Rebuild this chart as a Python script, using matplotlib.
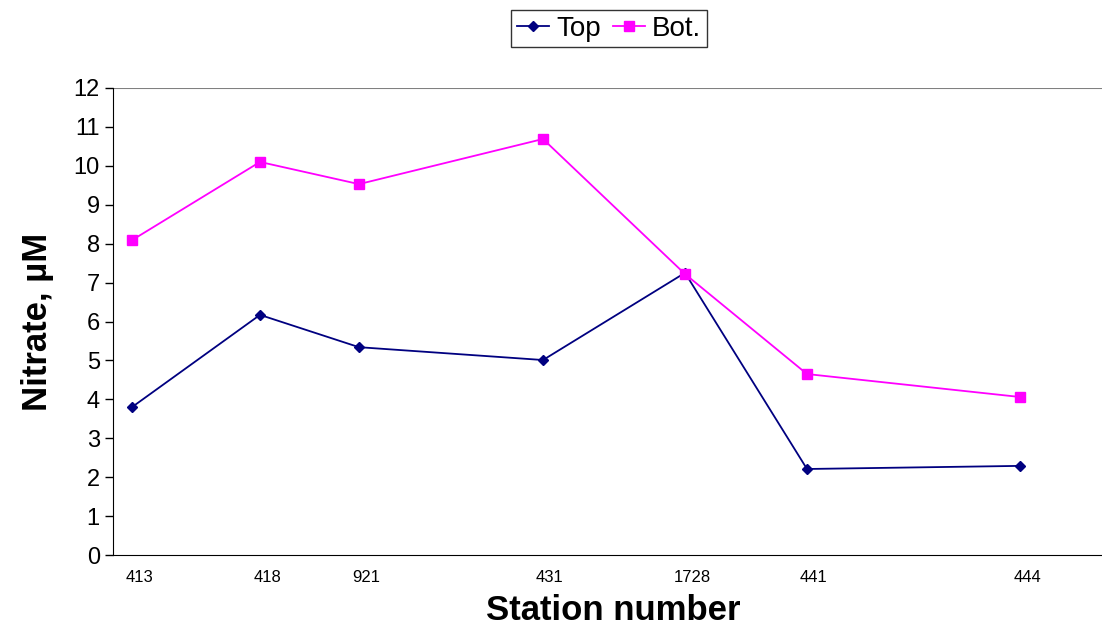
import matplotlib
matplotlib.use("Agg")
from matplotlib import pyplot as plt

plt.rcParams['font.family'] = ['Liberation Sans', 'DejaVu Sans']

# station labels and their position along the transect (relative units)
stations = ['413', '418', '921', '431', '1728', '441', '444']
station_pos = [1.9, 14.7, 24.6, 43.0, 57.2, 69.4, 90.7]

# nitrate, uM
top = [3.80, 6.17, 5.34, 5.01, 7.25, 2.21, 2.29]
bot = [8.09, 10.10, 9.53, 10.69, 7.22, 4.65, 4.06]

fig = plt.figure(figsize=(11.02, 6.25), dpi=100)
ax = fig.add_axes([113/1102, 70/625, 1000/1102, 467/625])

ax.plot(station_pos, top, color='#000080', marker='D', markersize=5,
        linewidth=1.3, label='Top', clip_on=False)
ax.plot(station_pos, bot, color='#ff00ff', marker='s', markersize=7,
        linewidth=1.3, label='Bot.', clip_on=False)

ax.set_xlim(0, 100)
ax.set_ylim(0, 12)
ax.set_yticks(range(0, 13))
ax.set_xticks([p + 0.7 for p in station_pos])
ax.set_xticklabels(stations, fontsize=12)
ax.tick_params(axis='x', length=0, pad=11)
ax.tick_params(axis='y', labelsize=17, length=6, direction='out', width=1)

ax.axhline(12, color='#808080', linewidth=1.5)
ax.spines['right'].set_visible(False)
ax.spines['top'].set_visible(False)

ax.set_xlabel('Station number', fontsize=25, fontweight='bold', labelpad=6)
ax.set_ylabel('Nitrate, µM', fontsize=25, fontweight='bold', labelpad=14)

leg = fig.legend(loc='upper center', bbox_to_anchor=(609/1102, 0.997), ncol=2,
                 fontsize=20, frameon=True, fancybox=False, edgecolor='black',
                 handlelength=1.15, handletextpad=0.25, columnspacing=0.45,
                 borderpad=0.2, borderaxespad=0.3)
leg.get_frame().set_linewidth(1.0)

fig.savefig('out.png', dpi=100)
